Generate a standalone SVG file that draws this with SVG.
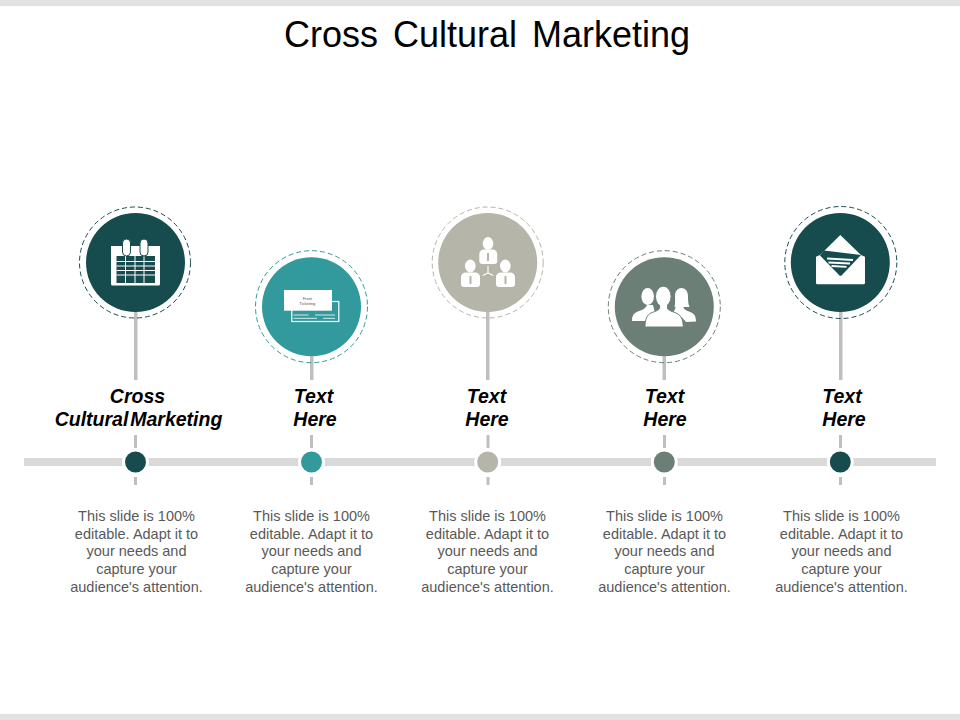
<svg xmlns="http://www.w3.org/2000/svg" width="960" height="720" viewBox="0 0 960 720">
<style>
text{font-family:"Liberation Sans",Arial,sans-serif}
.title{font-size:36px;fill:#000;text-anchor:middle}
.head{font-size:19.500px;font-weight:bold;font-style:italic;fill:#000;text-anchor:middle}
.body{font-size:14.500px;fill:#595959;text-anchor:middle}
.stem{fill:#bfbfbf}
.ring{fill:none;stroke-width:1;stroke-dasharray:5 3}
.w{fill:#fff}
.ln{stroke:#fff;fill:none}
.dk{fill:#174c4f}.tl{fill:#329a9d}.sd{fill:#b5b5a9}.sg{fill:#6b7f77}
.tiny{font-size:4px;fill:#555;text-anchor:middle}
</style>
<rect width="960" height="6" fill="#e2e2e2"/>
<rect y="714" width="960" height="6" fill="#e2e2e2"/>
<text id="title" class="title" x="487" y="47" word-spacing="5">Cross Cultural Marketing</text>
<g id="connectors">
<rect x="24" y="458" width="912" height="8" fill="#d9d9d9"/>
<rect class="stem" x="134" y="311" width="3.500" height="69"/>
<rect class="stem" x="310" y="356" width="3.500" height="24"/>
<rect class="stem" x="486" y="311" width="3.500" height="69"/>
<rect class="stem" x="662.500" y="356" width="3.500" height="24"/>
<rect class="stem" x="839" y="311" width="3.500" height="69"/>
<g class="stem">
<rect x="134" y="435" width="3" height="13"/><rect x="134" y="477" width="3" height="8"/>
<rect x="310" y="435" width="3" height="13"/><rect x="310" y="477" width="3" height="8"/>
<rect x="486.500" y="435" width="3" height="13"/><rect x="486.500" y="477" width="3" height="8"/>
<rect x="663" y="435" width="3" height="13"/><rect x="663" y="477" width="3" height="8"/>
<rect x="839" y="435" width="3" height="13"/><rect x="839" y="477" width="3" height="8"/>
</g>
</g>
<g id="node1">
<circle class="ring" cx="135" cy="262.500" r="55.500" stroke="#174c4f"/>
<circle class="dk" cx="135.500" cy="262.500" r="49.500"/>
<path class="w" d="M111 246h49v38a1.500 1.500 0 0 1-1.500 1.500h-46a1.500 1.500 0 0 1-1.500-1.500z"/>
<rect class="dk" x="116.500" y="256" width="38.500" height="27"/>
<path class="ln" stroke-width="1" d="M116.500 261.500h38.500M116.500 266h38.500M116.500 270.500h38.500M116.500 275h38.500M125.500 256v27M135 256v27M144 256v27"/>
<rect class="w" x="122.500" y="239" width="8" height="17" rx="4" stroke="#174c4f"/>
<rect class="w" x="140" y="239" width="8" height="17" rx="4" stroke="#174c4f"/>
<circle cx="135.500" cy="462" r="13.500" fill="#fff"/>
<circle class="dk" cx="135.500" cy="462" r="10.500"/>
<text class="head" x="137.500" y="403">Cross</text>
<text class="head" x="138.500" y="426" word-spacing="-3.500">Cultural Marketing</text>
<text class="body"><tspan x="136.500" y="521">This slide is 100%</tspan><tspan x="136.500" y="539">editable. Adapt it to</tspan><tspan x="136.500" y="556">your needs and</tspan><tspan x="136.500" y="574">capture your</tspan><tspan x="136.500" y="592">audience's attention.</tspan></text>
</g>
<g id="node2">
<circle class="ring" cx="311.500" cy="306.700" r="56" stroke="#329a9d"/>
<circle class="tl" cx="311.500" cy="306.700" r="49.500"/>
<rect x="291.800" y="301.500" width="47" height="20" fill="#329a9d" stroke="#fff" stroke-width="1.200"/>
<path class="ln" stroke-width="0.800" d="M293.500 315h15M315 315h20M293.500 318.300h23.500M323 318.300h12"/>
<rect class="w" x="284" y="290" width="48" height="20.700"/>
<text class="tiny" x="307.300" y="300">Front</text>
<text class="tiny" x="307.300" y="305">Ticketing</text>
<circle cx="311.500" cy="462" r="13.500" fill="#fff"/>
<circle class="tl" cx="311.500" cy="462" r="10.500"/>
<text class="head" x="313.500" y="403">Text</text>
<text class="head" x="315" y="426">Here</text>
<text class="body"><tspan x="311.500" y="521">This slide is 100%</tspan><tspan x="311.500" y="539">editable. Adapt it to</tspan><tspan x="311.500" y="556">your needs and</tspan><tspan x="311.500" y="574">capture your</tspan><tspan x="311.500" y="592">audience's attention.</tspan></text>
</g>
<g id="node3">
<circle class="ring" cx="487.700" cy="262.500" r="55.500" stroke="#b5b5a9"/>
<circle class="sd" cx="487.700" cy="262.500" r="49.500"/>
<g>
<path class="w" d="M479.300 261v-7a5 5 0 0 1 5-4.500h8a5 5 0 0 1 5 4.500v7a3 3 0 0 1-3 3h-12a3 3 0 0 1-3-3z"/>
<ellipse class="w" cx="488" cy="243.500" rx="5.300" ry="6.500"/>
<rect class="sd" x="487" y="253" width="2" height="8"/>
<path class="w" d="M461 284v-7a5 5 0 0 1 5-4.500h9a5 5 0 0 1 5 4.500v7a3 3 0 0 1-3 3h-13a3 3 0 0 1-3-3z"/>
<ellipse class="w" cx="470.300" cy="266" rx="5.300" ry="6.500"/>
<rect class="sd" x="469.500" y="276" width="2" height="8"/>
<path class="w" d="M496 284v-7a5 5 0 0 1 5-4.500h9a5 5 0 0 1 5 4.500v7a3 3 0 0 1-3 3h-13a3 3 0 0 1-3-3z"/>
<ellipse class="w" cx="505.300" cy="266" rx="5.300" ry="6.500"/>
<rect class="sd" x="504.500" y="276" width="2" height="8"/>
<path class="ln" stroke-width="1.200" d="M488 266v7M488 273l-5.300 2.500M488 273l5.300 2.500"/>
</g>
<circle cx="487.700" cy="462" r="13.500" fill="#fff"/>
<circle class="sd" cx="487.700" cy="462" r="10.500"/>
<text class="head" x="486.500" y="403">Text</text>
<text class="head" x="487" y="426">Here</text>
<text class="body"><tspan x="487.500" y="521">This slide is 100%</tspan><tspan x="487.500" y="539">editable. Adapt it to</tspan><tspan x="487.500" y="556">your needs and</tspan><tspan x="487.500" y="574">capture your</tspan><tspan x="487.500" y="592">audience's attention.</tspan></text>
</g>
<g id="node4">
<circle class="ring" cx="664.300" cy="306.700" r="56" stroke="#6b7f77"/>
<circle class="sg" cx="664.300" cy="306.700" r="49.500"/>
<path class="w" d="M632 321c0-6 2-8 7-10 4-1 7-3 8-6h6l2 8-6 2-4 6z"/>
<ellipse class="w" cx="647.700" cy="296.500" rx="6.300" ry="8.500"/>
<path class="w" d="M696 321.500c0-6-2-8-7-10-3-1-5-2-6-5h-7l-3 7 9 4 4 4.500z"/>
<path class="w" d="M674.500 307c1-4 .5-8 .5-11 0-5 3-8 6.500-8s6.500 3 6.500 8c0 3 0 8 1.500 11z"/>
<path class="w" d="M645 327c0-8 2-12 6-14 5-2 9-3 9.500-6.500h6c.5 3.500 4.500 4.500 9.500 6.500 5 2 7 6 7.300 14z" stroke="#6b7f77" stroke-width="1"/>
<ellipse class="w" cx="663.300" cy="296.500" rx="7.800" ry="10.300" stroke="#6b7f77" stroke-width="1"/>
<path class="w" d="M660 304h7v4h-7z"/>
<circle cx="664.300" cy="462" r="13.500" fill="#fff"/>
<circle class="sg" cx="664.300" cy="462" r="10.500"/>
<text class="head" x="664.500" y="403">Text</text>
<text class="head" x="665" y="426">Here</text>
<text class="body"><tspan x="664.500" y="521">This slide is 100%</tspan><tspan x="664.500" y="539">editable. Adapt it to</tspan><tspan x="664.500" y="556">your needs and</tspan><tspan x="664.500" y="574">capture your</tspan><tspan x="664.500" y="592">audience's attention.</tspan></text>
</g>
<g id="node5">
<circle class="ring" cx="840.800" cy="262.500" r="56" stroke="#174c4f"/>
<circle class="dk" cx="840.300" cy="262.500" r="49.500"/>
<path class="w" d="M816 256.700l4-1.700 20.300-20 20.700 20 4 1.700v26a1.500 1.500 0 0 1-1.500 1.500h-46a1.500 1.500 0 0 1-1.500-1.500z"/>
<path class="dk" d="M824 250.500l37 4.500-19 20a2 2 0 0 1-3 0l-19-19.500z"/>
<path class="ln" stroke-width="1.800" d="M827 258.500l26 1.500M828.500 262.500l21.500 1M831.500 266l15 .8"/>
<circle cx="840.300" cy="462" r="13.500" fill="#fff"/>
<circle class="dk" cx="840.300" cy="462" r="10.500"/>
<text class="head" x="842" y="403">Text</text>
<text class="head" x="844" y="426">Here</text>
<text class="body"><tspan x="841.500" y="521">This slide is 100%</tspan><tspan x="841.500" y="539">editable. Adapt it to</tspan><tspan x="841.500" y="556">your needs and</tspan><tspan x="841.500" y="574">capture your</tspan><tspan x="841.500" y="592">audience's attention.</tspan></text>
</g>
</svg>
